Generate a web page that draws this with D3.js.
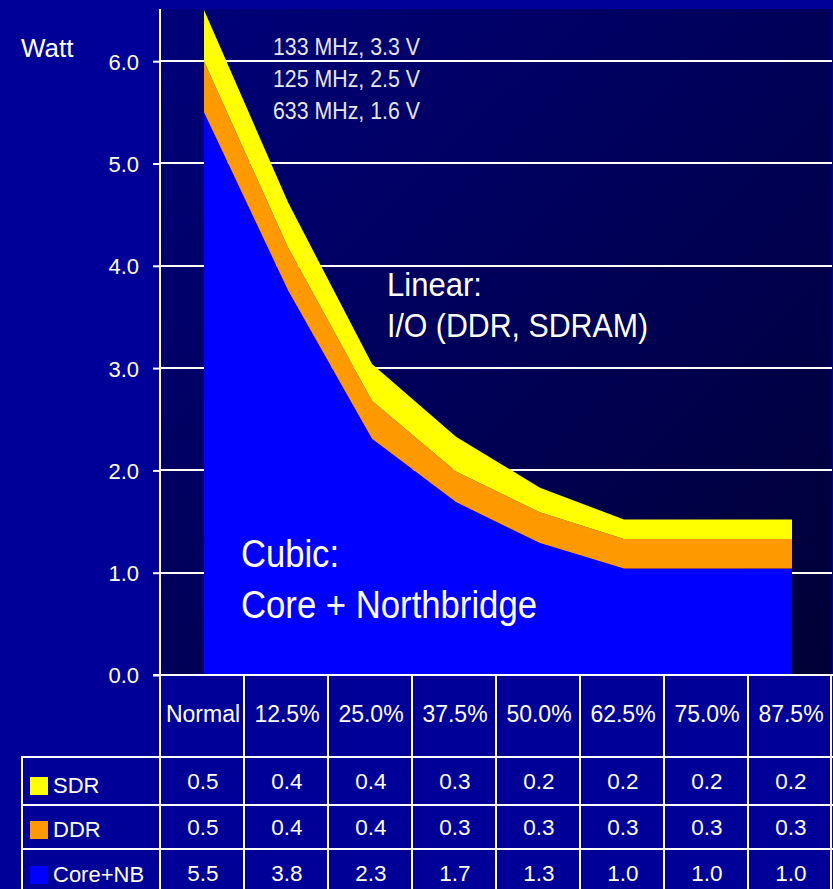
<!DOCTYPE html>
<html>
<head>
<meta charset="utf-8">
<script src="https://cdn.jsdelivr.net/npm/d3@7"></script>
<style>
  html, body { margin: 0; padding: 0; background: #000099; }
  svg { display: block; }
  text { font-family: "Liberation Sans", Arial, sans-serif; fill: #ffffff; }
  .narrow { font-family: "Liberation Sans Narrow", "Arial Narrow", "Liberation Sans", sans-serif; }
</style>
</head>
<body>
<svg id="chart" width="833" height="889"></svg>
<script>
// ---- data ----
const categories = ["Normal", "12.5%", "25.0%", "37.5%", "50.0%", "62.5%", "75.0%", "87.5%"];
const sdr  = [0.50, 0.44, 0.36, 0.34, 0.24, 0.19, 0.19, 0.19];
const ddr  = [0.50, 0.42, 0.37, 0.30, 0.30, 0.29, 0.29, 0.29];
const core = [5.50, 3.76, 2.31, 1.69, 1.29, 1.04, 1.04, 1.04];
const yTicks = [0, 1, 2, 3, 4, 5, 6];
const seriesKeys = ["core", "ddr", "sdr"];            // stacking order bottom -> top
const tableRows = [
  { key: "sdr",  label: "SDR" },
  { key: "ddr",  label: "DDR" },
  { key: "core", label: "Core+NB" }
];
const annotations = ["133 MHz, 3.3 V", "125 MHz, 2.5 V", "633 MHz, 1.6 V"];
const yLabel = "Watt";
const noteLinear = ["Linear:", "I/O (DDR, SDRAM)"];
const noteCubic = ["Cubic:", "Core + Northbridge"];

// ---- styles / layout ----
const colors = { sdr: "#ffff00", ddr: "#ff9900", core: "#0000ff" };
const seriesData = { sdr, ddr, core };
const plot = { left: 160, right: 832, top: 9, bottom: 675 };

const svg = d3.select("#chart");

// background
svg.append("rect").attr("width", 833).attr("height", 889).attr("fill", "#000099");

const defs = svg.append("defs");
const grad = defs.append("linearGradient").attr("id", "plotbg")
  .attr("x1", 0).attr("y1", 0).attr("x2", 1).attr("y2", 1);
grad.append("stop").attr("offset", "0%").attr("stop-color", "#00007a");
grad.append("stop").attr("offset", "100%").attr("stop-color", "#000036");

svg.append("rect")
  .attr("x", plot.left).attr("y", plot.top)
  .attr("width", plot.right - plot.left).attr("height", plot.bottom - plot.top)
  .attr("fill", "url(#plotbg)");

// scales
const y = d3.scaleLinear().domain([0, 6]).range([675, 61.2]);
const x = d3.scalePoint().domain(categories).range([204, 792]);
const xBand = d3.scaleBand().domain(categories).range([plot.left, plot.right]).padding(0);

// gridlines (1..6) below area
svg.append("g").selectAll("line").data(yTicks.filter(t => t > 0)).join("line")
  .attr("x1", plot.left).attr("x2", plot.right)
  .attr("y1", d => Math.round(y(d))).attr("y2", d => Math.round(y(d)))
  .attr("stroke", "#ffffff").attr("stroke-width", 2);

// stacked area
const rows = categories.map((c, i) => ({ cat: c, core: core[i], ddr: ddr[i], sdr: sdr[i] }));
const stacked = d3.stack().keys(seriesKeys)(rows);
const area = d3.area()
  .x(d => x(d.data.cat))
  .y0(d => y(d[0]))
  .y1(d => y(d[1]));
svg.append("g").selectAll("path").data(stacked).join("path")
  .attr("d", area)
  .attr("fill", d => colors[d.key]);

// y axis
const yAxis = d3.axisLeft(y).tickValues(yTicks).tickFormat(d3.format(".1f")).tickSize(7).tickPadding(14);
const gy = svg.append("g").attr("transform", `translate(${plot.left},0)`).call(yAxis);
gy.select(".domain").remove();
gy.selectAll(".tick line").attr("stroke", "#ffffff").attr("stroke-width", 2);
gy.selectAll(".tick text")
  .attr("fill", "#ffffff")
  .style("font-family", '"Liberation Sans", Arial, sans-serif')
  .style("font-size", "22px")
  .attr("dy", "0.36em");

// axis vertical line
svg.append("line")
  .attr("x1", plot.left).attr("x2", plot.left)
  .attr("y1", plot.top).attr("y2", 889)
  .attr("stroke", "#ffffff").attr("stroke-width", 2);

// y label
svg.append("text").attr("x", 21).attr("y", 57)
  .style("font-size", "26px").text(yLabel);

// annotations
svg.append("g").selectAll("text").data(annotations).join("text")
  .attr("class", "narrow")
  .attr("x", 273).attr("y", (d, i) => 55 + i * 32)
  .style("font-size", "24px")
  .style("fill", "#e6e6ee")
  .attr("textLength", 147).attr("lengthAdjust", "spacingAndGlyphs")
  .text(d => d);

const linearLens = [95, 261];
svg.append("g").selectAll("text").data(noteLinear).join("text")
  .attr("class", "narrow")
  .attr("x", 387).attr("y", (d, i) => [296, 337][i])
  .style("font-size", "34px")
  .attr("textLength", (d, i) => linearLens[i]).attr("lengthAdjust", "spacingAndGlyphs")
  .text(d => d);

const cubicLens = [98, 296];
svg.append("g").selectAll("text").data(noteCubic).join("text")
  .attr("class", "narrow")
  .attr("x", 241).attr("y", (d, i) => [567, 618][i])
  .style("font-size", "38px")
  .attr("textLength", (d, i) => cubicLens[i]).attr("lengthAdjust", "spacingAndGlyphs")
  .text(d => d);

// ---- data table ----
const rowTops = [757, 805, 849];
const rowBaselines = [789, 835, 881];
const labelBaselines = [793, 837, 882];
const tableLeft = 22;
const fmt = d3.format(".1f");

const tbl = svg.append("g");
// header labels
tbl.selectAll("text.hdr").data(categories).join("text")
  .attr("class", "hdr")
  .attr("x", d => xBand(d) + xBand.bandwidth() / 2 + 1)
  .attr("y", 722)
  .attr("text-anchor", "middle")
  .style("font-size", "23px")
  .text(d => d);

// value cells
tableRows.forEach((r, ri) => {
  tbl.append("g").selectAll("text").data(seriesData[r.key]).join("text")
    .attr("x", (d, i) => xBand(categories[i]) + xBand.bandwidth() / 2 + 1)
    .attr("y", rowBaselines[ri])
    .attr("text-anchor", "middle")
    .style("font-size", "22.5px")
    .text(d => fmt(d));
  tbl.append("rect")
    .attr("x", 30).attr("y", labelBaselines[ri] - 16)
    .attr("width", 18).attr("height", 18)
    .attr("fill", colors[r.key]);
  tbl.append("text")
    .attr("x", 53).attr("y", labelBaselines[ri])
    .style("font-size", "22px")
    .text(r.label);
});

// table grid lines
const hLines = [{ y: 675, x1: 153 }].concat(rowTops.map(t => ({ y: t, x1: tableLeft - 1 })));
tbl.selectAll("line.h").data(hLines).join("line")
  .attr("class", "h")
  .attr("x1", d => d.x1).attr("x2", 833)
  .attr("y1", d => d.y).attr("y2", d => d.y)
  .attr("stroke", "#ffffff").attr("stroke-width", 2);

const vLines = categories.map(c => xBand(c) + xBand.bandwidth()).concat([plot.left]);
tbl.selectAll("line.v").data(vLines).join("line")
  .attr("class", "v")
  .attr("x1", d => Math.min(d, 831)).attr("x2", d => Math.min(d, 831))
  .attr("y1", 675).attr("y2", 889)
  .attr("stroke", "#ffffff").attr("stroke-width", 2);

tbl.append("line")
  .attr("x1", tableLeft).attr("x2", tableLeft)
  .attr("y1", rowTops[0]).attr("y2", 889)
  .attr("stroke", "#ffffff").attr("stroke-width", 2);
</script>
</body>
</html>
